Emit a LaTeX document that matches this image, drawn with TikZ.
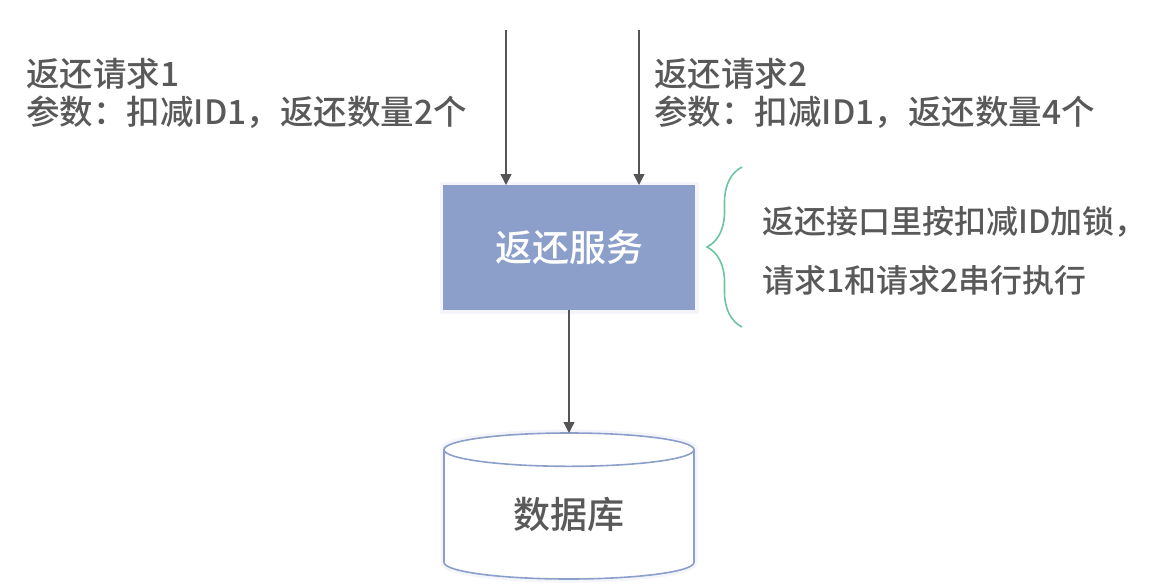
\documentclass[tikz,border=0pt]{standalone}
\usepackage{fontspec}
\setmainfont{Noto Sans CJK SC}[UprightFont=* Medium]
\usetikzlibrary{arrows.meta, positioning, shapes.geometric, decorations.pathreplacing}
\definecolor{boxblue}{HTML}{8C9FCA}
\definecolor{txtgray}{HTML}{595959}
\definecolor{linegray}{HTML}{555555}
\definecolor{bracegreen}{HTML}{6CC5A0}

\begin{document}
\begin{tikzpicture}[x=1pt, y=-1pt,
        txt/.style={text=txtgray, align=left, anchor=north west, inner sep=0pt,
                    font=\fontsize{33.5}{38}\selectfont},
        svcbox/.style={fill=boxblue, minimum width=252pt, minimum height=125pt,
                       inner sep=0pt, outer sep=0pt, text=white,
                       font=\fontsize{37}{44}\selectfont,
                       preaction={draw=boxblue!10, line width=7pt}},
        dbcyl/.style={cylinder, shape border rotate=90, aspect=0.3,
                      draw=boxblue, line width=1.6pt, fill=white,
                      minimum width=250pt, minimum height=146pt,
                      inner sep=0pt, outer sep=0pt, text=txtgray,
                      font=\fontsize{37}{44}\selectfont,
                      preaction={draw=boxblue!10, line width=7pt}},
        arrow/.style={-{Triangle[length=11pt, width=11pt]}, draw=linegray,
                      fill=linegray, line width=1.3pt}
    ]
        \useasboundingbox (0,0) rectangle (1174,586);
        \node[txt] (req1) at (26,58) {返还请求1\\参数：扣减ID1，返还数量2个};
        \node[txt] (req2) at (654,58) {返还请求2\\参数：扣减ID1，返还数量4个};
        \node[svcbox] (svc) at (569,247.5) {返还服务};
        \node[dbcyl, anchor=north] (db) at (569,433) {数据库};
        \node[txt, font=\fontsize{32}{59}\selectfont] (note) at (762,206)
            {返还接口里按扣减ID加锁，\\请求1和请求2串行执行};
        \coordinate (in1) at (506,30);
        \coordinate (in2) at (639,30);
        \draw[arrow] (in1) -- (in1 |- svc.north);
        \draw[arrow] (in2) -- (in2 |- svc.north);
        \draw[arrow] (svc.south) -- (db.north);
        \draw[bracegreen, line width=1.6pt, decorate,
              decoration={brace, amplitude=35pt}] (742,327) -- (742,167);
    \end{tikzpicture}
\end{document}
